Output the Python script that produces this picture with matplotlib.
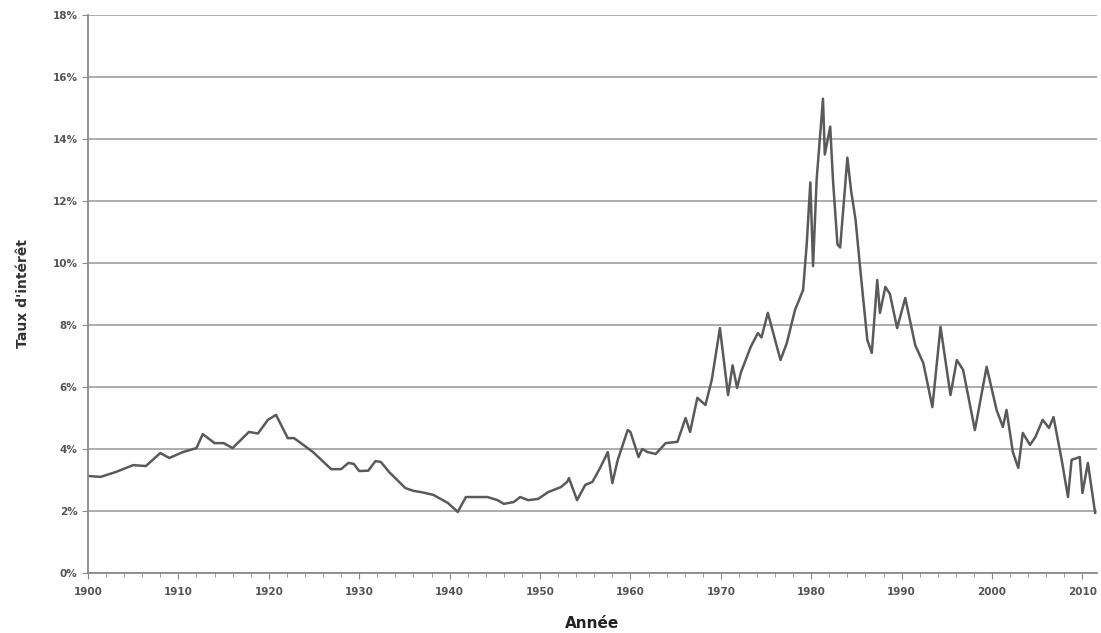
import matplotlib.pyplot as plt
from matplotlib.ticker import MultipleLocator, FuncFormatter

# taux d'interet
years = [1900, 1901.4, 1903.1, 1905, 1906.4, 1908, 1909, 1910.5, 1912, 1912.7,
         1914, 1915, 1916, 1917.8, 1918.8, 1919.9, 1920.8, 1922.1, 1922.8, 1924.9,
         1926.9, 1928, 1928.8, 1929.4, 1930, 1931, 1931.8, 1932.4, 1933.3, 1935.1,
         1936, 1937, 1938.2, 1939.8, 1940.9, 1941.8, 1944.2, 1945.3, 1946, 1947.1,
         1947.8, 1948.7, 1949.8, 1950.9, 1952.3, 1953, 1953.2, 1954.1, 1955, 1955.8,
         1956.7, 1957.5, 1958, 1958.6, 1959.7, 1960, 1960.9, 1961.3, 1961.9, 1962.8,
         1963.9, 1965.2, 1966.1, 1966.6, 1967.4, 1968.3, 1969, 1969.9, 1970.8, 1971.3,
         1971.8, 1972.2, 1973.3, 1974.1, 1974.5, 1975.2, 1976.6, 1977.3, 1978.2, 1979.1,
         1979.5, 1979.9, 1980.2, 1980.6, 1981.3, 1981.5, 1982.1, 1982.4, 1982.9, 1983.2,
         1984.0, 1984.4, 1984.9, 1985.4, 1986.2, 1986.7, 1987.3, 1987.6, 1988.2, 1988.7,
         1989.5, 1990.4, 1991.5, 1992.4, 1993.4, 1994.3, 1995.4, 1996.1, 1996.8, 1998.1,
         1999.4, 2000.5, 2001.2, 2001.6, 2002.3, 2002.9, 2003.4, 2004.2, 2004.8, 2005.6,
         2006.3, 2006.8, 2007.7, 2008.4, 2008.8, 2009.7, 2010.0, 2010.6, 2011.4]
rates = [3.13, 3.1, 3.26, 3.48, 3.45, 3.87, 3.71, 3.9, 4.03, 4.48,
         4.19, 4.19, 4.03, 4.55, 4.5, 4.94, 5.1, 4.35, 4.35, 3.9,
         3.35, 3.35, 3.55, 3.52, 3.29, 3.3, 3.61, 3.58, 3.26, 2.74,
         2.65, 2.6, 2.52, 2.26, 1.97, 2.45, 2.45, 2.35, 2.23, 2.29,
         2.45, 2.35, 2.39, 2.61, 2.77, 2.94, 3.06, 2.35, 2.84, 2.94,
         3.42, 3.9, 2.9, 3.65, 4.61, 4.55, 3.74, 4.0, 3.9, 3.84,
         4.19, 4.23, 5.0, 4.55, 5.65, 5.42, 6.23, 7.9, 5.74, 6.7,
         5.97, 6.45, 7.29, 7.74, 7.6, 8.39, 6.87, 7.42, 8.48, 9.13,
         10.6, 12.6, 9.9, 12.7, 15.3, 13.5, 14.4, 12.7, 10.6, 10.5,
         13.4, 12.35, 11.4, 9.87, 7.52, 7.1, 9.45, 8.39, 9.23, 9.0,
         7.9, 8.87, 7.35, 6.77, 5.35, 7.94, 5.74, 6.87, 6.55, 4.61,
         6.65, 5.26, 4.71, 5.26, 3.9, 3.39, 4.52, 4.13, 4.39, 4.94,
         4.68, 5.03, 3.65, 2.45, 3.65, 3.74, 2.58, 3.55, 1.94]

xticks = [1900, 1910, 1920, 1930, 1940, 1950, 1960, 1970, 1980, 1990, 2000, 2010]
yticks = [0, 2, 4, 6, 8, 10, 12, 14, 16, 18]

fig = plt.figure(figsize=(11.01, 6.33), dpi=100)
ax = fig.add_axes([0.0799, 0.0948, 0.9164, 0.8815])

ax.plot(years, rates, color='#5a5a5a', lw=1.8)

ax.set_xlim(1900, 2011.6)
ax.set_ylim(0, 18)
ax.set_xticks(xticks)
ax.set_yticks(yticks)
ax.xaxis.set_minor_locator(MultipleLocator(2))
ax.yaxis.set_major_formatter(FuncFormatter(lambda v, p: '%d%%' % v))

ax.grid(axis='y', color='#a0a0a0', lw=1.2)
ax.set_axisbelow(True)
for s in ['top', 'right']:
    ax.spines[s].set_visible(False)
for s in ['left', 'bottom']:
    ax.spines[s].set_color('#8a8a8a')
    ax.spines[s].set_linewidth(1.3)

ax.tick_params(axis='x', which='major', length=4, color='#8a8a8a', labelsize=7.5,
               labelcolor='#555555', pad=6)
ax.tick_params(axis='x', which='minor', length=3, color='#8a8a8a')
ax.tick_params(axis='y', length=4, color='#8a8a8a', labelsize=7.5, labelcolor='#555555')
for lab in ax.get_xticklabels() + ax.get_yticklabels():
    lab.set_fontweight('bold')

ax.set_xlabel('Année', fontsize=11, fontweight='bold', color='#222222', labelpad=14)
ax.set_ylabel("Taux d'intérêt", fontsize=10, fontweight='bold', color='#333333', labelpad=16)

fig.savefig('out.png', dpi=100)
